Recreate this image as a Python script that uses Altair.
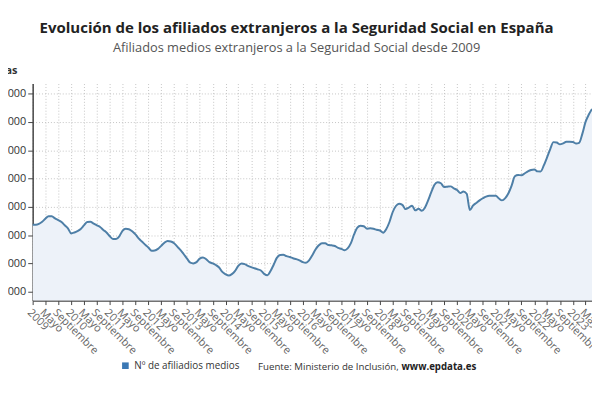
import altair as alt
import pandas as pd

# Afiliados medios extranjeros (miles de personas), enero 2009 - julio 2023
afiliados_miles = [
    1874, 1874, 1880, 1895, 1916, 1934, 1934, 1918, 1906, 1893, 1870, 1848,
    1812, 1819, 1829, 1844, 1869, 1893, 1894, 1882, 1869, 1858, 1837, 1819,
    1792, 1773, 1772, 1792, 1831, 1845, 1842, 1827, 1805, 1777, 1755, 1733,
    1712, 1689, 1691, 1703, 1724, 1746, 1759, 1755, 1743, 1719, 1694, 1665,
    1634, 1605, 1600, 1609, 1634, 1642, 1630, 1609, 1600, 1589, 1571, 1540,
    1523, 1514, 1524, 1547, 1583, 1600, 1595, 1583, 1574, 1566, 1558, 1550,
    1526, 1516, 1545, 1591, 1639, 1660, 1661, 1652, 1645, 1637, 1630, 1622,
    1609, 1605, 1621, 1658, 1698, 1728, 1743, 1742, 1730, 1728, 1723, 1710,
    1703, 1693, 1706, 1743, 1805, 1853, 1867, 1863, 1846, 1848, 1845, 1838,
    1833, 1817, 1842, 1893, 1962, 2006, 2022, 2014, 1984, 1995, 2008, 1976,
    1986, 1972, 1992, 2044, 2102, 2156, 2174, 2167, 2140, 2143, 2145, 2131,
    2119, 2098, 2109, 2093, 1978, 2010, 2028, 2046, 2061, 2073, 2079, 2079,
    2079, 2059, 2046, 2062, 2096, 2152, 2216, 2225, 2224, 2236, 2251, 2261,
    2265, 2251, 2250, 2293, 2349, 2409, 2458, 2455, 2442, 2449, 2460, 2461,
    2459, 2448, 2453, 2518, 2601, 2653, 2693,
]
anios = list(range(2009, 2024))
meses_etiqueta = [1, 5, 9]
marcas_y = [1400000, 1600000, 1800000, 2000000, 2200000, 2400000, 2600000, 2800000]
serie = "Nº de afiliadios medios"

meses = pd.date_range("2009-01-01", periods=len(afiliados_miles), freq="MS")
df = pd.DataFrame({
    "mes": meses,
    "afiliados": [v * 1000 for v in afiliados_miles],
    "serie": serie,
})

ticks_x = [
    alt.DateTime(year=a, month=m, date=1)
    for a in anios for m in meses_etiqueta
    if not (a == 2023 and m == 9)
]

x = alt.X(
    "mes:T",
    scale=alt.Scale(domain=[alt.DateTime(year=2009, month=1, date=1),
                            alt.DateTime(year=2023, month=7, date=1)]),
    axis=alt.Axis(
        values=ticks_x,
        labelExpr="month(datum.value) == 0 ? timeFormat(datum.value, '%Y') : "
                  "(month(datum.value) == 4 ? 'Mayo' : 'Septiembre')",
        labelAngle=45, labelAlign="left", labelBaseline="top",
        labelOverlap=False, labelColor="#666", labelPadding=2,
        tickSize=4,
    ),
    title=None,
)
y = alt.Y(
    "afiliados:Q",
    scale=alt.Scale(domain=[1337000, 2872000], nice=False, zero=False),
    axis=alt.Axis(
        values=marcas_y,
        labelExpr="replace(format(datum.value, ','), /,/g, '.')",
        labelColor="#333", tickSize=5, labelPadding=2,
        title="Personas", titleAngle=0, titleAlign="right",
        titleBaseline="alphabetic", titleX=-16, titleY=-10,
        titleFontSize=11, titleFontWeight="bold", titleColor="#333",
    ),
)

base = alt.Chart(df)

area = base.mark_area(color="#edf2f9", interpolate="monotone", clip=True).encode(x=x, y=y)

linea = base.mark_line(strokeWidth=2, interpolate="monotone").encode(
    x=x,
    y=y,
    color=alt.Color(
        "serie:N",
        scale=alt.Scale(range=["#4e7fa7"]),
        legend=alt.Legend(
            title=None, orient="none", legendX=89, legendY=281,
            symbolType="square", symbolSize=45, symbolFillColor="#3b78b4",
            symbolStrokeWidth=0, labelFontSize=10, labelColor="#333",
        ),
    ),
)

fuente = alt.Chart(pd.DataFrame({"t": ["Fuente: Ministerio de Inclusión,"]})).mark_text(
    align="right", baseline="middle", fontSize=9.8, color="#333"
).encode(x=alt.value(371), y=alt.value(287), text="t:N")

web = alt.Chart(pd.DataFrame({"t": ["www.epdata.es"]})).mark_text(
    align="left", baseline="middle", fontSize=9.8, fontWeight="bold", color="#222"
).encode(x=alt.value(374), y=alt.value(287), text="t:N")

chart = (
    alt.layer(area, linea, fuente, web)
    .properties(
        width=567,
        height=220,
        autosize=alt.AutoSizeParams(type="none"),
        padding={"left": 25, "top": 74, "right": 0, "bottom": 88},
        title=alt.Title(
            "Evolución de los afiliados extranjeros a la Seguridad Social en España",
            subtitle="Afiliados medios extranjeros a la Seguridad Social desde 2009",
            fontSize=15.2, fontWeight="bold", color="#222",
            subtitleFontSize=13, subtitleColor="#555", subtitlePadding=6,
            anchor="middle", frame="group", dx=-16, offset=10,
        ),
    )
    .configure(font="Open Sans")
    .configure_view(stroke=None)
    .configure_axis(
        labelFontSize=11,
        domainColor="#444", domainWidth=1.5, tickColor="#444",
        gridColor="#c4c4c4", gridDash=[1, 2], gridWidth=1,
    )
)

chart.save("out.html", embed_options={"renderer": "svg", "actions": False})
